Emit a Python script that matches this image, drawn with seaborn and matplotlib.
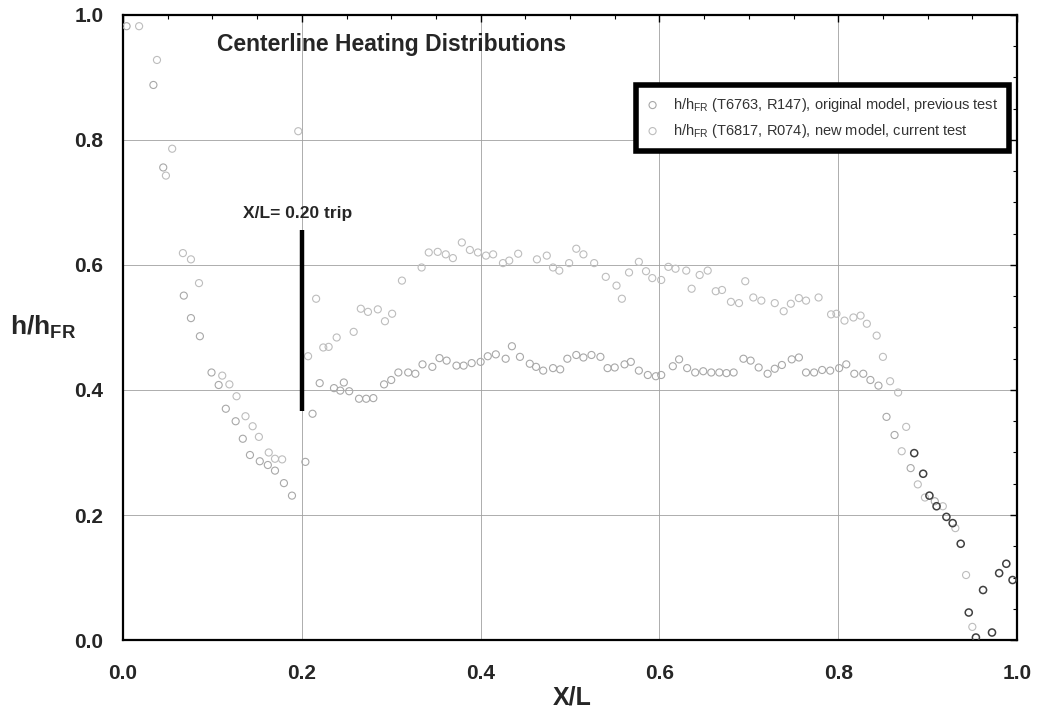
import numpy as np
import pandas as pd
import matplotlib
matplotlib.use("Agg")
import matplotlib.pyplot as plt
import seaborn as sns
from matplotlib.ticker import MultipleLocator

# ---------------- data ----------------
# original model, previous test (T6763, R147)
orig_x = [0.004, 0.034, 0.045, 0.068, 0.076, 0.086, 0.099, 0.107, 0.115, 0.126, 0.134, 0.142,
          0.153, 0.162, 0.170, 0.180, 0.189, 0.204, 0.212, 0.220, 0.236, 0.243, 0.247, 0.253,
          0.264, 0.272, 0.280, 0.292, 0.300, 0.308, 0.319, 0.327, 0.335, 0.346, 0.354, 0.362,
          0.373, 0.381, 0.390, 0.400, 0.408, 0.417, 0.428, 0.435, 0.444, 0.455, 0.462, 0.470,
          0.481, 0.489, 0.497, 0.507, 0.515, 0.524, 0.534, 0.542, 0.550, 0.561, 0.568, 0.577,
          0.587, 0.596, 0.602, 0.615, 0.622, 0.631, 0.640, 0.649, 0.658, 0.667, 0.675, 0.683,
          0.694, 0.702, 0.711, 0.721, 0.729, 0.737, 0.748, 0.756, 0.764, 0.773, 0.782, 0.791,
          0.801, 0.809, 0.818, 0.828, 0.836, 0.845, 0.854, 0.863, 0.881, 0.908]
orig_y = [0.982, 0.888, 0.756, 0.551, 0.515, 0.486, 0.428, 0.408, 0.370, 0.350, 0.322, 0.296,
          0.286, 0.280, 0.271, 0.251, 0.231, 0.285, 0.362, 0.411, 0.403, 0.399, 0.412, 0.398,
          0.386, 0.386, 0.387, 0.409, 0.416, 0.428, 0.428, 0.426, 0.441, 0.437, 0.451, 0.447,
          0.439, 0.439, 0.443, 0.445, 0.454, 0.457, 0.450, 0.470, 0.453, 0.442, 0.437, 0.431,
          0.435, 0.433, 0.450, 0.456, 0.452, 0.456, 0.453, 0.435, 0.436, 0.441, 0.445, 0.431,
          0.424, 0.422, 0.424, 0.438, 0.449, 0.435, 0.428, 0.430, 0.428, 0.428, 0.427, 0.428,
          0.450, 0.447, 0.436, 0.426, 0.434, 0.440, 0.449, 0.452, 0.428, 0.428, 0.432, 0.431,
          0.435, 0.441, 0.426, 0.426, 0.416, 0.407, 0.357, 0.328, 0.275, 0.222]
# tail points of the original model that print darker in the scan
tail_x = [0.885, 0.895, 0.902, 0.910, 0.921, 0.928, 0.937, 0.946, 0.954, 0.962, 0.972, 0.980,
          0.988, 0.995]
tail_y = [0.299, 0.266, 0.231, 0.214, 0.197, 0.187, 0.154, 0.044, 0.004, 0.080, 0.012, 0.107,
          0.122, 0.096]

# new model, current test (T6817, R074)
new_x = [0.018, 0.038, 0.048, 0.055, 0.067, 0.076, 0.085, 0.111, 0.119, 0.127, 0.137, 0.145,
         0.152, 0.163, 0.170, 0.178, 0.196, 0.207, 0.216, 0.224, 0.230, 0.239, 0.258, 0.266,
         0.274, 0.285, 0.293, 0.301, 0.312, 0.334, 0.342, 0.352, 0.361, 0.369, 0.379, 0.388,
         0.397, 0.406, 0.414, 0.425, 0.432, 0.442, 0.463, 0.474, 0.481, 0.488, 0.499, 0.507,
         0.515, 0.527, 0.540, 0.552, 0.558, 0.566, 0.577, 0.585, 0.592, 0.602, 0.610, 0.618,
         0.630, 0.636, 0.645, 0.654, 0.663, 0.670, 0.680, 0.689, 0.696, 0.705, 0.714, 0.729,
         0.739, 0.747, 0.756, 0.764, 0.778, 0.792, 0.798, 0.807, 0.817, 0.825, 0.832, 0.843,
         0.850, 0.858, 0.867, 0.876, 0.871, 0.889, 0.897, 0.917, 0.931, 0.943, 0.950]
new_y = [0.982, 0.928, 0.743, 0.786, 0.619, 0.609, 0.571, 0.423, 0.409, 0.390, 0.358, 0.342,
         0.325, 0.300, 0.290, 0.289, 0.814, 0.454, 0.546, 0.468, 0.469, 0.484, 0.493, 0.530,
         0.525, 0.529, 0.510, 0.522, 0.575, 0.596, 0.620, 0.621, 0.617, 0.611, 0.636, 0.624,
         0.620, 0.615, 0.617, 0.603, 0.607, 0.618, 0.609, 0.615, 0.596, 0.591, 0.603, 0.626,
         0.617, 0.603, 0.581, 0.567, 0.546, 0.588, 0.605, 0.590, 0.579, 0.576, 0.597, 0.594,
         0.591, 0.562, 0.584, 0.591, 0.558, 0.560, 0.541, 0.539, 0.574, 0.548, 0.543, 0.539,
         0.526, 0.538, 0.547, 0.543, 0.548, 0.521, 0.522, 0.511, 0.516, 0.519, 0.506, 0.487,
         0.453, 0.414, 0.396, 0.341, 0.302, 0.249, 0.228, 0.214, 0.179, 0.104, 0.021]

labels = [r"h/h$_{\mathrm{FR}}$ (T6763, R147), original model, previous test",
          r"h/h$_{\mathrm{FR}}$ (T6817, R074), new model, current test"]
x_ticks = [0.0, 0.2, 0.4, 0.6, 0.8, 1.0]
y_ticks = [0.0, 0.2, 0.4, 0.6, 0.8, 1.0]
trip_x = 0.20
trip_y = [0.367, 0.656]

# ---------------- style ----------------
sns.set_theme(style="white")
plt.rcParams["font.family"] = ["Liberation Sans", "DejaVu Sans"]
plt.rcParams["mathtext.fontset"] = "custom"
plt.rcParams["mathtext.rm"] = "Liberation Sans"
plt.rcParams["mathtext.bf"] = "Liberation Sans:bold"
plt.rcParams["mathtext.it"] = "Liberation Sans:italic"

fig = plt.figure(figsize=(10.38, 7.12), dpi=100)
ax = fig.add_axes([0.1185, 0.1011, 0.8613, 0.8779])

df_orig = pd.DataFrame({"x": orig_x, "y": orig_y})
df_tail = pd.DataFrame({"x": tail_x, "y": tail_y})
df_new = pd.DataFrame({"x": new_x, "y": new_y})

mk = dict(marker="o", s=26, facecolor="none", linewidth=0.8, zorder=3)
sns.scatterplot(data=df_orig, x="x", y="y", ax=ax, edgecolor="#a8a8a8", label=labels[0], **mk)
sns.scatterplot(data=df_new, x="x", y="y", ax=ax, edgecolor="#bdbdbd", label=labels[1], **mk)
sns.scatterplot(data=df_tail, x="x", y="y", ax=ax, edgecolor="#404040", legend=False,
                **{**mk, "linewidth": 1.1})

# trip marker
ax.plot([trip_x, trip_x], trip_y, color="black", linewidth=3.2, solid_capstyle="butt", zorder=4)
ax.text(0.134, 0.683, "X/L= 0.20 trip", fontsize=12.5, fontweight="bold", ha="left", va="center")
ax.text(0.105, 0.952, "Centerline Heating Distributions", fontsize=16.5, fontweight="bold",
        ha="left", va="center")

ax.set_xlim(0, 1)
ax.set_ylim(0, 1)
ax.set_xticks(x_ticks)
ax.set_yticks(y_ticks)
ax.set_xticklabels([f"{v:.1f}" for v in x_ticks], fontsize=15, fontweight="bold")
ax.set_yticklabels([f"{v:.1f}" for v in y_ticks], fontsize=15, fontweight="bold")
ax.xaxis.set_minor_locator(MultipleLocator(0.05))
ax.yaxis.set_minor_locator(MultipleLocator(0.05))
ax.tick_params(which="both", direction="in", top=True, right=True, color="black")
ax.tick_params(which="major", length=5, width=1.0)
ax.tick_params(which="minor", length=3, width=0.8)
ax.tick_params(axis="x", which="major", pad=17)
ax.tick_params(axis="y", which="major", pad=14)
ax.grid(True, which="major", color="#a0a0a0", linewidth=0.6, linestyle="-")
ax.set_axisbelow(True)
for sp in ax.spines.values():
    sp.set_color("black")
    sp.set_linewidth(1.6)

ax.set_xlabel("X/L", fontsize=18, fontweight="bold")
ax.xaxis.set_label_coords(0.502, -0.073)
ax.set_ylabel(r"$\mathbf{h/h_{FR}}$", fontsize=19, rotation=0, ha="right", va="center")
ax.yaxis.set_label_coords(-0.052, 0.50)

leg = ax.legend(loc="upper right", bbox_to_anchor=(0.991, 0.888), fontsize=10.5,
                frameon=True, fancybox=False, edgecolor="black", framealpha=1,
                handlelength=0.8, handletextpad=1.0, borderpad=0.75, labelspacing=0.55,
                borderaxespad=0)
leg.get_frame().set_linewidth(4)
for t in leg.get_texts():
    t.set_color("#333333")

fig.savefig("out.png", dpi=100)
